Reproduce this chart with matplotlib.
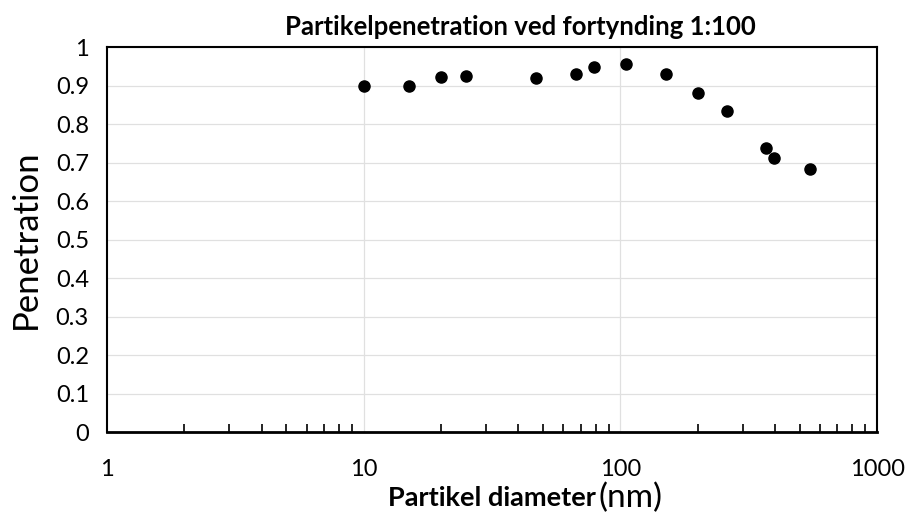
import matplotlib.pyplot as plt
import numpy as np
from matplotlib.ticker import LogLocator, NullFormatter

# Data
diameter = [10, 15, 20, 25, 47, 67, 79, 105, 150, 200, 261, 369, 398, 548]
penetration = [0.900, 0.898, 0.922, 0.925, 0.920, 0.930, 0.948, 0.955,
               0.929, 0.880, 0.834, 0.738, 0.711, 0.683]

x_ticks = [1, 10, 100, 1000]
x_labels = ["1", "10", "100", "1000"]
y_ticks = np.round(np.arange(0, 1.01, 0.1), 1)
y_labels = ["0"] + [f"{v:g}" for v in y_ticks[1:-1]] + ["1"]

plt.rcParams['font.family'] = ['Lato', 'DejaVu Sans']

fig = plt.figure(figsize=(9.07, 5.17), dpi=100)
ax = fig.add_axes([0.118, 0.164, 0.849, 0.745])

ax.plot(diameter, penetration, "o", color="black", ms=8, zorder=3)

ax.set_xscale("log")
ax.set_xlim(1, 1000)
ax.set_ylim(0, 1)

ax.set_xticks(x_ticks)
ax.set_xticklabels(x_labels, fontsize=17)
ax.xaxis.set_minor_locator(LogLocator(base=10, subs=np.arange(2, 10)))
ax.xaxis.set_minor_formatter(NullFormatter())
ax.set_yticks(y_ticks)
ax.set_yticklabels(y_labels, fontsize=17)

ax.tick_params(axis="x", which="major", length=0, pad=19)
ax.tick_params(axis="x", which="minor", direction="in", length=6, width=1.2)
ax.tick_params(axis="y", length=0, pad=13)

# Grid
ax.grid(axis="y", color="#e0e0e0", linewidth=0.9)
for xv in [10, 100]:
    ax.axvline(xv, color="#e0e0e0", linewidth=0.9, zorder=0)

for s in ax.spines.values():
    s.set_linewidth(1.5)
    s.set_color("black")
ax.spines["bottom"].set_linewidth(2)

fig.text(0.574, 0.948, "Partikelpenetration ved fortynding 1:100", fontsize=18.5,
         fontweight="bold", ha="center", va="center")
ax.set_ylabel("Penetration", fontsize=25, labelpad=10)

fig.text(0.657, 0.037, "Partikel diameter", fontsize=19.5, fontweight="bold",
         ha="right", va="center")
fig.text(0.660, 0.037, "(nm)", fontsize=24, ha="left", va="center")

plt.savefig("out.png", dpi=100)
